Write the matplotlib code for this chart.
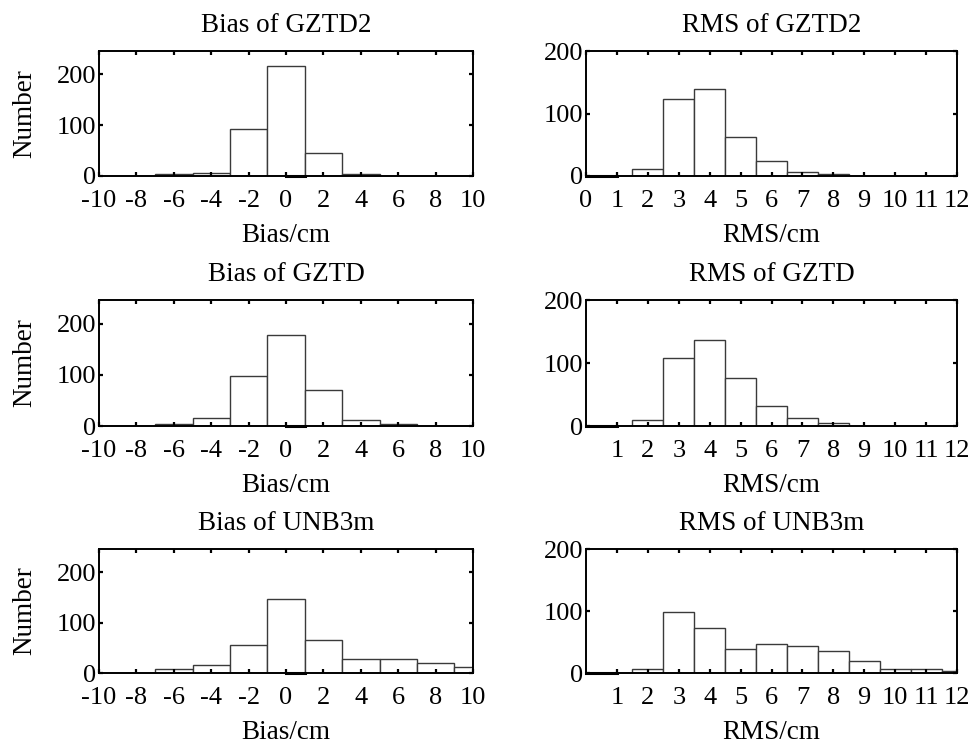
import matplotlib
matplotlib.use("Agg")
import matplotlib.pyplot as plt

plt.rcParams['font.family'] = ['Liberation Serif', 'DejaVu Serif']
plt.rcParams['font.size'] = 19

# Histogram bins (centres) and counts
bias_centers = [-10, -8, -6, -4, -2, 0, 2, 4, 6, 8, 10]
bias_gztd2 = [0, 0, 3, 6, 92, 216, 46, 3, 0, 0, 0]
bias_gztd = [0, 0, 3, 15, 97, 178, 70, 11, 4, 0, 0]
bias_unb3m = [0, 0, 7, 15, 55, 146, 66, 28, 28, 20, 11]

rms_centers = [0, 1, 2, 3, 4, 5, 6, 7, 8, 9, 10, 11, 12]
rms_gztd2 = [0, 0, 12, 123, 139, 63, 24, 6, 3, 0, 0, 0, 0]
rms_gztd = [0, 0, 10, 108, 136, 76, 32, 13, 4, 0, 0, 0, 0]
rms_unb3m = [0, 0, 6, 98, 73, 38, 47, 44, 35, 19, 6, 6, 3]

bias_ticks = [-10, -8, -6, -4, -2, 0, 2, 4, 6, 8, 10]
rms_ticks_first = list(range(0, 13))
rms_ticks_rest = list(range(1, 13))

W, H = 973, 745
fig = plt.figure(figsize=(W / 100, H / 100), dpi=100)


def make_axes(x0, x1, ytop, ybot):
    return fig.add_axes([x0 / W, 1 - ybot / H, (x1 - x0) / W, (ybot - ytop) / H])


def style(ax):
    for s in ax.spines.values():
        s.set_linewidth(1.4)
    ax.tick_params(direction='in', length=3, width=1.6, top=True, right=True,
                   labelsize=19)
    ax.tick_params(axis='x', pad=10)
    ax.tick_params(axis='y', pad=2)
    ax.plot([-0.01, 1.01], [0, 0], transform=ax.get_xaxis_transform(),
            color='k', lw=2.2, clip_on=False, zorder=5)


def fmt(v):
    return str(v).replace('\u2212', '-')


rows = [(51, 176), (300, 426), (549, 673)]
bias_sets = [("GZTD2", bias_gztd2), ("GZTD", bias_gztd), ("UNB3m", bias_unb3m)]
rms_sets = [("GZTD2", rms_gztd2), ("GZTD", rms_gztd), ("UNB3m", rms_unb3m)]

for i, (ytop, ybot) in enumerate(rows):
    # Bias histogram
    name, counts = bias_sets[i]
    ax = make_axes(99, 473, ytop, ybot)
    ax.bar(bias_centers, counts, width=2, facecolor='white',
           edgecolor='#3a3a3a', linewidth=1.0)
    ax.set_xlim(-10, 10)
    ax.set_ylim(0, 246)
    ax.set_xticks(bias_ticks)
    ax.set_xticklabels([fmt(t) for t in bias_ticks])
    ax.set_yticks([0, 100, 200])
    ax.set_title(f"Bias of {name}", fontsize=19.5, pad=14)
    ax.set_xlabel("Bias/cm", fontsize=19.5, labelpad=8)
    ax.set_ylabel("Number", fontsize=19.5, labelpad=14)
    style(ax)

    # RMS histogram
    name, counts = rms_sets[i]
    ax = make_axes(586, 957, ytop, ybot)
    ax.bar(rms_centers, counts, width=1, facecolor='white',
           edgecolor='#3a3a3a', linewidth=1.0)
    ax.set_xlim(0, 12)
    ax.set_ylim(0, 200)
    ticks = rms_ticks_first if i == 0 else rms_ticks_rest
    ax.set_xticks(ticks)
    ax.set_xticklabels([str(t) for t in ticks])
    ax.set_yticks([0, 100, 200])
    ax.set_title(f"RMS of {name}", fontsize=19.5, pad=14)
    ax.set_xlabel("RMS/cm", fontsize=19.5, labelpad=8)
    style(ax)

fig.savefig("out.png", dpi=100)
